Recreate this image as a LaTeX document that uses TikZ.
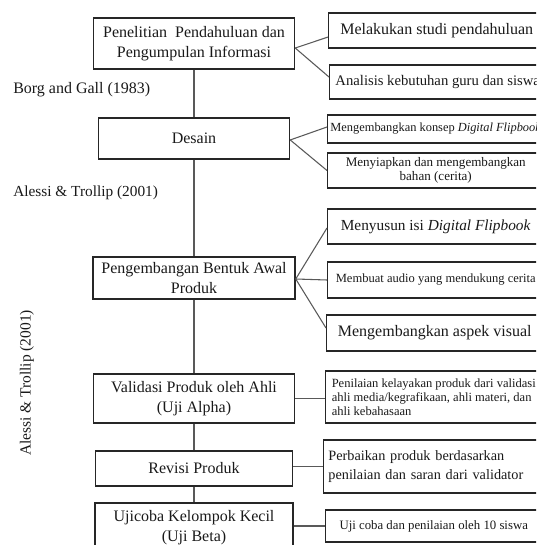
\documentclass[tikz,border=0pt]{standalone}
\usepackage{fontspec}
\setmainfont{Liberation Serif}
\usepackage{tikz}
\tikzstyle{stage} = [rectangle, draw=black!85, line width=1.1pt, align=center, text=black!90, font=\fontsize{12pt}{15pt}\selectfont]
\tikzstyle{detail} = [rectangle, draw=black!85, line width=1.1pt, anchor=west, minimum width=162pt, align=center, text=black!90, inner xsep=3pt]
\tikzstyle{link} = [draw=black!65, line width=0.8pt]
\tikzstyle{source} = [inner sep=0pt, text=black!90, font=\fontsize{12pt}{14pt}\selectfont]

\begin{document}
\begin{tikzpicture}[x=0.75pt, y=-0.75pt]
        \useasboundingbox (0,0) rectangle (536,545);
        \clip (0,0) rectangle (536,545);

        % tahapan utama
        \node (pen) [stage, minimum width=150.75pt, minimum height=38.25pt] at (194,43.5) {Penelitian\ \ Pendahuluan dan\\Pengumpulan Informasi};
        \node (desain) [stage, minimum width=143.25pt, minimum height=30.75pt] at (194,138.5) {Desain};
        \node (bentuk) [stage, minimum width=151.5pt, minimum height=31.5pt] at (194,278) {Pengembangan Bentuk Awal\\Produk};
        \node (validasi) [stage, minimum width=150.75pt, minimum height=36.75pt] at (194,398.5) {Validasi Produk oleh Ahli\\(Uji Alpha)};
        \node (revisi) [stage, minimum width=147.75pt, minimum height=26.25pt] at (194,468.5) {Revisi Produk};
        \node (ujicoba) [stage, minimum width=148.5pt, minimum height=36.75pt] at (194,527.5) {Ujicoba Kelompok Kecil\\(Uji Beta)};

        % rincian kegiatan
        \node (studi) [detail, minimum height=26.25pt, font=\fontsize{12pt}{14pt}\selectfont] at (328,30.5) {Melakukan studi pendahuluan};
        \node (analisis) [detail, minimum height=25.5pt, inner xsep=1pt, font=\fontsize{11pt}{13pt}\selectfont] at (329,82) {Analisis kebutuhan guru dan siswa};
        \node (konsep) [detail, minimum height=21pt, inner xsep=2pt, font=\fontsize{9.3pt}{11pt}\selectfont] at (327,129) {Mengembangkan konsep \textit{Digital Flipbook}};
        \node (bahan) [detail, minimum height=26.25pt, inner ysep=2pt, font=\fontsize{9.8pt}{10.5pt}\selectfont] at (327,170.5) {Menyiapkan dan mengembangkan\\bahan (cerita)};
        \node (isi) [detail, minimum height=26.25pt, font=\fontsize{11.5pt}{13pt}\selectfont] at (327,226.5) {Menyusun isi \textit{Digital Flipbook}};
        \node (audio) [detail, minimum height=27pt, font=\fontsize{9.4pt}{11pt}\selectfont] at (327,280) {Membuat audio yang mendukung cerita};
        \node (visual) [detail, minimum height=27pt, font=\fontsize{12pt}{14pt}\selectfont] at (326,333) {Mengembangkan aspek visual};
        \node (nilai) [detail, minimum height=39pt, align=left, inner ysep=2pt, font=\fontsize{9.4pt}{10.6pt}\selectfont] at (325,397) {Penilaian kelayakan produk dari validasi\\ahli media/kegrafikaan, ahli materi, dan\\ahli kebahasaan};
        \node (perbaikan) [detail, minimum height=39.75pt, text width=155pt, inner xsep=3.5pt, align=left, font=\fontsize{10.7pt}{14pt}\selectfont] at (323,466.5) {Perbaikan produk berdasarkan\\penilaian dan saran dari validator};
        \node (ujisiswa) [detail, minimum height=24pt, font=\fontsize{9.6pt}{11pt}\selectfont] at (325,526) {Uji coba dan penilaian oleh 10 siswa};

        % sumber model
        \node (borg) [source, anchor=west] at (13,90) {Borg and Gall (1983)};
        \node (alessi) [source, anchor=west, font=\fontsize{11.5pt}{14pt}\selectfont] at (13,193) {Alessi \& Trollip (2001)};
        \node (alessirot) [source, rotate=90, font=\fontsize{11.6pt}{14pt}\selectfont] at (27,383) {Alessi \& Trollip (2001)};

        \draw [link] (pen) -- (desain);
        \draw [link] (desain) -- (bentuk);
        \draw [link] (bentuk) -- (validasi);
        \draw [link] (validasi) -- (revisi);
        \draw [link] (revisi) -- (ujicoba);

        \draw [link] ([yshift=-3.4pt]pen.east) -- ([yshift=-4.9pt]studi.west);
        \draw [link] ([yshift=-3.4pt]pen.east) -- ([yshift=3.75pt]analisis.west);
        \draw [link] ([yshift=-1.1pt]desain.east) -- ([yshift=1.5pt]konsep.west);
        \draw [link] ([yshift=-1.1pt]desain.east) -- (bahan.west);
        \draw [link] ([yshift=-0.75pt]bentuk.east) -- ([yshift=-1.1pt]isi.west);
        \draw [link] ([yshift=-0.75pt]bentuk.east) -- (audio.west);
        \draw [link] ([yshift=-0.75pt]bentuk.east) -- ([yshift=3.75pt]visual.west);
        \draw [link] (validasi.east) -- (validasi.east -| nilai.west);
        \draw [link] (perbaikan.west -| revisi.east) -- (perbaikan.west);
        \draw [link] (ujisiswa.west -| ujicoba.east) -- (ujisiswa.west);
    \end{tikzpicture}
\end{document}
